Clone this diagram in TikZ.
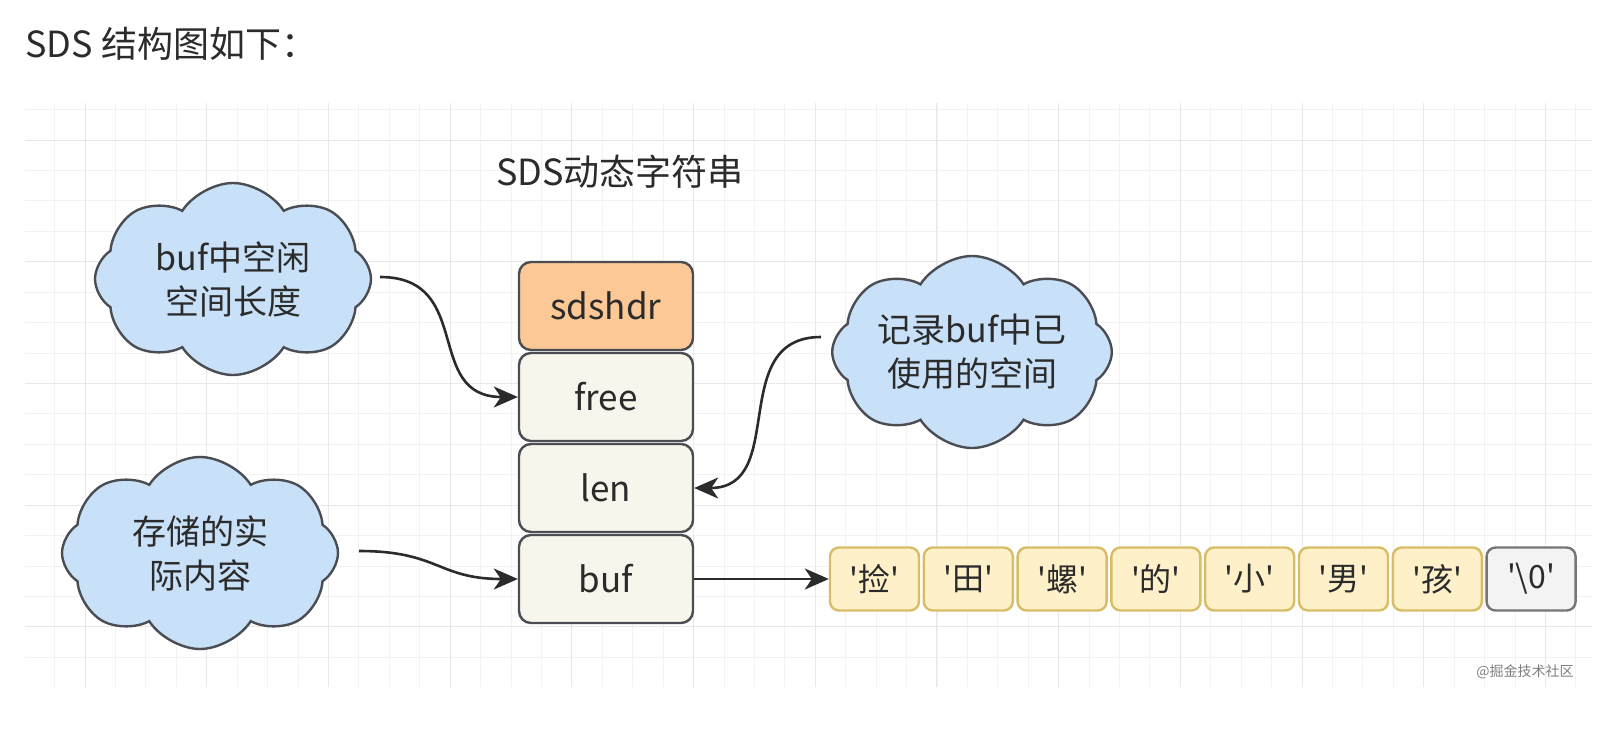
\documentclass[tikz,border=0pt]{standalone}
\usepackage{fontspec}
\usetikzlibrary{positioning, shapes.symbols, arrows.meta}
\newfontfamily\cjk{Noto Sans CJK SC}
\definecolor{ink}{HTML}{2B2B2B}
\definecolor{edge}{HTML}{4A4D52}
\definecolor{hdrbg}{HTML}{FBC896}
\definecolor{fieldbg}{HTML}{F8F6EC}
\definecolor{cloudbg}{HTML}{C9E1F8}
\definecolor{cellbg}{HTML}{FEF0C8}
\definecolor{celledge}{HTML}{D8BD66}
\definecolor{nulbg}{HTML}{F3F3F3}
\definecolor{nuledge}{HTML}{767676}

\begin{document}
\begin{tikzpicture}[x=1pt, y=-1pt,
    field/.style={draw=edge, fill=fieldbg, line width=2.4pt, rounded corners=12pt,
      minimum width=174pt, minimum height=88pt, text=ink, font=\cjk\fontsize{35}{40}\selectfont},
    header/.style={field, fill=hdrbg},
    note/.style={cloud, cloud puffs=8, cloud puff arc=115, cloud ignores aspect,
      draw=edge, fill=cloudbg, line width=2.4pt, minimum width=276pt, minimum height=192pt,
      align=center, text=ink, font=\cjk\fontsize{34}{44}\selectfont},
    cell/.style={draw=celledge, fill=cellbg, line width=2.4pt, rounded corners=9pt,
      minimum width=89pt, minimum height=63pt, text=ink, font=\cjk\fontsize{32}{36}\selectfont},
    nulcell/.style={cell, draw=nuledge, fill=nulbg},
    link/.style={draw=ink, line width=2.6pt, -{Stealth[length=24pt, width=21pt, inset=7pt]}}]
    \useasboundingbox[fill=white] (0,0) rectangle (1611,744);
    \begin{scope}[shift={(85,140)}]
        \draw[draw=black!5, line width=0.8pt, xstep=30.425pt, ystep=30.425pt] (-60,-37) grid (1507,547);
        \draw[draw=black!9, line width=1pt, xstep=121.7pt, ystep=121.7pt] (-60,-37) grid (1507,547);
    \end{scope}

    \node[anchor=west, text=ink, font=\cjk\fontsize{36}{40}\selectfont] (H) at (22,44) {SDS 结构图如下：};
    \node[text=ink, font=\cjk\fontsize{36}{40}\selectfont] (T) at (620,172) {SDS动态字符串};

    \node[header] (sdshdr) at (606,306) {sdshdr};
    \node[field, below=0.6pt of sdshdr] (free) {free};
    \node[field, below=0.6pt of free] (len) {len};
    \node[field, below=0.6pt of len] (buf) {buf};

    \node[note] (C1) at (233,279) {buf中空闲\\空间长度};
    \node[note] (C2) at (972,352) {记录buf中已\\使用的空间};
    \node[note] (C3) at (200,553) {存储的实\\际内容};

    \node[cell, right=134.6pt of buf] (c1) {'捡'};
    \node[cell, right=2.4pt of c1] (c2) {'田'};
    \node[cell, right=2.4pt of c2] (c3) {'螺'};
    \node[cell, right=2.4pt of c3] (c4) {'的'};
    \node[cell, right=2.4pt of c4] (c5) {'小'};
    \node[cell, right=2.4pt of c5] (c6) {'男'};
    \node[cell, right=2.4pt of c6] (c7) {'孩'};
    \node[nulcell, right=2.4pt of c7] (c8) {'\textbackslash0'};

    \node[text=black!50, font=\cjk\fontsize{14}{16}\selectfont] (W) at (1525,672) {@掘金技术社区};

    \coordinate (s1) at (380,277);
    \coordinate (s2) at (821,337);
    \coordinate (s3) at (359,551);
    \draw[link] (s1) .. controls +(95,0) and +(-95,0) .. (free.west);
    \draw[link] (s2) .. controls +(-95,0) and +(95,0) .. (len.east);
    \draw[link] (s3) .. controls +(80,0) and +(-80,0) .. (buf.west);
    \draw[link] (buf.east) -- (c1.west);
\end{tikzpicture}
\end{document}
